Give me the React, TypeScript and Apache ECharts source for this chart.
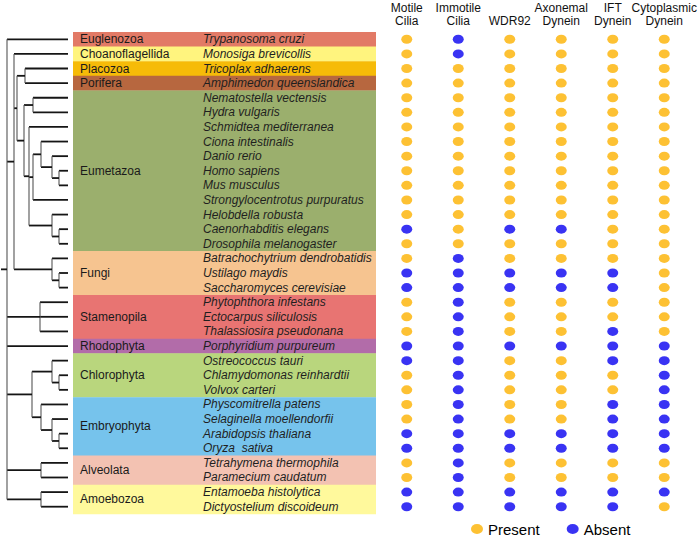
import React, { useEffect, useRef } from 'react';
import * as echarts from 'echarts';

const FONT = '"Liberation Sans", Arial, Helvetica, sans-serif';

const species = [
  'Trypanosoma cruzi', 'Monosiga brevicollis', 'Tricoplax adhaerens', 'Amphimedon queenslandica',
  'Nematostella vectensis', 'Hydra vulgaris', 'Schmidtea mediterranea', 'Ciona intestinalis',
  'Danio rerio', 'Homo sapiens', 'Mus musculus', 'Strongylocentrotus purpuratus',
  'Helobdella robusta', 'Caenorhabditis elegans', 'Drosophila melanogaster',
  'Batrachochytrium dendrobatidis', 'Ustilago maydis', 'Saccharomyces cerevisiae',
  'Phytophthora infestans', 'Ectocarpus siliculosis', 'Thalassiosira pseudonana',
  'Porphyridium purpureum', 'Ostreococcus tauri', 'Chlamydomonas reinhardtii', 'Volvox carteri',
  'Physcomitrella patens', 'Selaginella moellendorfii', 'Arabidopsis thaliana', 'Oryza  sativa',
  'Tetrahymena thermophila', 'Paramecium caudatum', 'Entamoeba histolytica', 'Dictyostelium discoideum',
];

const groups = ['Euglenozoa', 'Choanoflagellida', 'Placozoa', 'Porifera', 'Eumetazoa', 'Fungi',
  'Stamenopila', 'Rhodophyta', 'Chlorophyta', 'Embryophyta', 'Alveolata', 'Amoebozoa'];
const groupSizes = [1, 1, 1, 1, 11, 3, 3, 1, 3, 4, 2, 2];
const groupColors = ['#E27A66', '#FFF47E', '#F6BB08', '#B7673F', '#9BAF6D', '#F6C490',
  '#E87472', '#B26CA9', '#B9D67D', '#76C3EC', '#F3C2B2', '#FFF99C'];

const genes = ['Motile\nCilia', 'Immotile\nCilia', 'WDR92', 'Axonemal\nDynein', 'IFT\nDynein', 'Cytoplasmic\nDynein'];

// 1 = present, 0 = absent (one value per species, same order)
const motile =   [1,1,1,1,1,1,1,1,1,1,1,1,1,0,1,1,0,0,1,1,1,0,0,1,1,1,1,0,0,1,1,0,0];
const immotile = [0,0,1,1,1,1,1,1,1,1,1,1,1,1,1,0,0,0,0,0,0,0,0,0,0,0,0,0,0,0,0,0,0];
const wdr92 =    [1,1,1,1,1,1,1,1,1,1,1,1,1,0,1,1,0,0,1,1,1,0,1,1,1,1,1,0,0,1,1,0,0];
const axonemal = [1,1,1,1,1,1,1,1,1,1,1,1,1,0,1,1,0,0,1,1,1,0,1,1,1,1,1,0,0,1,1,0,0];
const ift =      [1,1,1,1,1,1,1,1,1,1,1,1,1,1,1,1,0,0,1,1,0,0,0,1,1,0,0,0,0,1,1,0,0];
const cyto =     [1,1,1,1,1,1,1,1,1,1,1,1,1,1,1,1,1,1,1,1,1,0,0,0,0,0,0,0,0,1,1,0,1];
const geneData = [motile, immotile, wdr92, axonemal, ift, cyto];

// Tree: leaves are species indices, d = node depth
const leafDepth = 68;
const tree: any = { d: 7, c: [
  0,
  { d: 14, c: [
    1,
    { d: 17, c: [
      { d: 25, c: [2, 3] },
      { d: 24, c: [
        { d: 33, c: [4, 5] },
        { d: 29, c: [
          6,
          { d: 33, c: [ { d: 41, c: [7, { d: 52, c: [8, { d: 59, c: [9, 10] }] }] }, 11 ] },
          { d: 52, c: [12, { d: 59, c: [13, 14] }] },
        ] },
      ] },
    ] },
    { d: 52, c: [15, { d: 59, c: [16, 17] }] },
  ] },
  { d: 40, c: [18, 19, 20] },
  21,
  { d: 32, c: [
    { d: 52, c: [22, { d: 59, c: [23, 24] }] },
    { d: 41, c: [25, { d: 52, c: [26, { d: 59, c: [27, 28] }] }] },
  ] },
  { d: 41, c: [29, 30] },
  { d: 41, c: [31, 32] },
] };

function buildSegments(node: any, parentDepth: number, out: number[][]): number {
  if (typeof node === 'number') {
    out.push([parentDepth, node, leafDepth, node, 0]);
    return node;
  }
  const ys = node.c.map((ch: any) => buildSegments(ch, node.d, out));
  const y = (ys[0] + ys[ys.length - 1]) / 2;
  out.push([node.d, ys[0], node.d, ys[ys.length - 1], 1]);
  out.push([parentDepth, y, node.d, y, 0]);
  return y;
}

const ELL = 'path://M0,5 A6,5 0 1,1 12,5 A6,5 0 1,1 0,5 Z';

export default function App() {
  const ref = useRef<HTMLDivElement>(null);
  useEffect(() => {
    const chart = echarts.init(ref.current!, null, { renderer: 'svg' });
    const segs: number[][] = [];
    buildSegments(tree, 1, segs);

    const bandData: number[][] = [];
    let s = 0;
    groupSizes.forEach((n) => { bandData.push([s, s + n - 1]); s += n; });

    const present: number[][] = [];
    const absent: number[][] = [];
    geneData.forEach((arr, j) => arr.forEach((v, i) => (v ? present : absent).push([j, i])));

    const yBase = { type: 'value', min: -0.5, max: 32.5, inverse: true, show: false };
    const option: any = {
      animation: false,
      textStyle: { fontFamily: FONT },
      grid: [
        { left: 0, top: 32, width: 68, height: 482 },
        { left: 73, top: 32, width: 303, height: 482 },
        { left: 381, top: 32, width: 309, height: 482 },
      ],
      xAxis: [
        { gridIndex: 0, type: 'value', min: 0, max: 68, show: false },
        { gridIndex: 1, type: 'value', min: 0, max: 1, show: false },
        {
          gridIndex: 2, type: 'category', data: genes, position: 'top',
          axisLine: { show: false }, axisTick: { show: false }, splitLine: { show: false },
          axisLabel: { interval: 0, fontSize: 12, lineHeight: 13, color: '#111', margin: 5, fontFamily: FONT },
        },
      ],
      yAxis: [0, 1, 2].map((g) => ({ ...yBase, gridIndex: g })),
      legend: {
        data: [{ name: 'Present', icon: ELL }, { name: 'Absent', icon: ELL }],
        left: 471, top: 521, padding: 0, itemWidth: 12, itemHeight: 10, itemGap: 27,
        textStyle: { fontSize: 15, lineHeight: 16, color: '#000', fontFamily: FONT },
      },
      series: [
        {
          type: 'custom', xAxisIndex: 0, yAxisIndex: 0, silent: true, clip: false,
          data: segs,
          renderItem: (_p: any, api: any) => {
            const a = api.coord([api.value(0), api.value(1)]);
            const b = api.coord([api.value(2), api.value(3)]);
            const v = api.value(4);
            return {
              type: 'line',
              shape: { x1: a[0], y1: a[1], x2: b[0], y2: b[1] },
              style: { stroke: v ? '#555' : '#151515', lineWidth: v ? 1.1 : 1.8 },
            };
          },
        },
        {
          type: 'custom', xAxisIndex: 1, yAxisIndex: 1, silent: true, clip: false,
          data: bandData,
          renderItem: (params: any, api: any) => {
            const i = params.dataIndex;
            const p1 = api.coord([0, api.value(0) - 0.5]);
            const p2 = api.coord([1, api.value(1) + 0.5]);
            return {
              type: 'group',
              children: [
                { type: 'rect', shape: { x: p1[0], y: p1[1], width: p2[0] - p1[0], height: p2[1] - p1[1] + 0.3 }, style: { fill: groupColors[i] } },
                { type: 'text', x: p1[0] + 7, y: (p1[1] + p2[1]) / 2, style: { text: groups[i], fill: '#1a1a1a', fontSize: 12, fontFamily: FONT, verticalAlign: 'middle', align: 'left' } },
              ],
            };
          },
        },
        {
          type: 'custom', xAxisIndex: 1, yAxisIndex: 1, silent: true, clip: false,
          data: species.map((_n, i) => [0, i]),
          renderItem: (params: any, api: any) => {
            const p = api.coord([0, api.value(1)]);
            return {
              type: 'text', x: p[0] + 130, y: p[1],
              style: { text: species[params.dataIndex], fill: '#1f1f1f', fontSize: 12, fontStyle: 'italic', fontFamily: FONT, verticalAlign: 'middle', align: 'left' },
            };
          },
        },
        {
          name: 'Present', type: 'scatter', xAxisIndex: 2, yAxisIndex: 2,
          symbol: ELL, symbolSize: [11, 9], itemStyle: { color: '#FDB100' }, data: present,
        },
        {
          name: 'Absent', type: 'scatter', xAxisIndex: 2, yAxisIndex: 2,
          symbol: ELL, symbolSize: [11, 9], itemStyle: { color: '#0800F0' }, data: absent,
        },
      ],
    };
    chart.setOption(option);
    return () => chart.dispose();
  }, []);
  return <div ref={ref} style={{ position: 'fixed', left: 0, top: 0, width: 700, height: 538, background: '#fff' }} />;
}
